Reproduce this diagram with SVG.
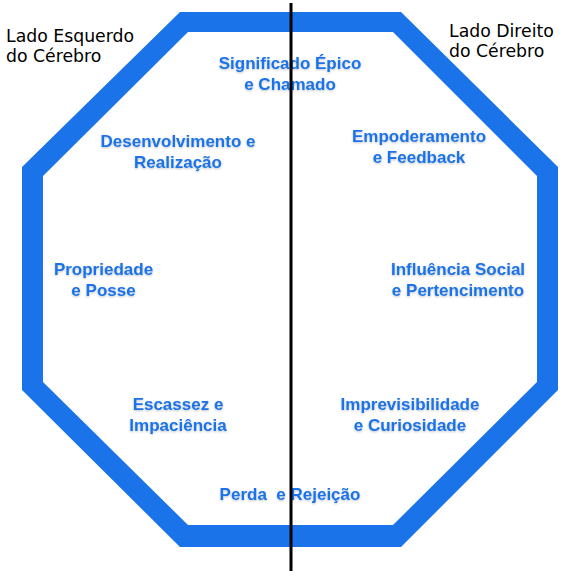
<svg xmlns="http://www.w3.org/2000/svg" width="581" height="577" viewBox="0 0 581 577">
<defs>
<style>
.lbl{font-family:"Liberation Sans",Arial,sans-serif;font-weight:bold;font-size:17px;fill:#1a73e8;text-anchor:middle;filter:url(#sh)}
.side{font-family:"DejaVu Sans",sans-serif;font-size:17.3px;fill:#000}
</style>
<filter id="sh" x="-10%" y="-30%" width="120%" height="160%">
<feDropShadow dx="0" dy="1" stdDeviation="1" flood-color="#000" flood-opacity="0.25"/>
</filter>
</defs>
<rect width="581" height="577" fill="#fff"/>
<g id="octagon">
<path fill="#1a73e8" fill-rule="evenodd" d="M180,12 L401,12 L558,167 L558,390 L401,547 L180,547 L22,390 L22,167 Z M188,32 L43,176 L43,382 L188,525 L393,525 L537,382 L537,176 L393,32 Z"/>
</g>
<g id="labels-side">
<text class="side" x="6" y="42">Lado Esquerdo</text>
<text class="side" x="6" y="62">do Cérebro</text>
<text class="side" x="449" y="37">Lado Direito</text>
<text class="side" x="449" y="57">do Cérebro</text>
</g>
<g id="n-epico"><text class="lbl" x="290" y="69">Significado Épico</text><text class="lbl" x="290" y="90">e Chamado</text></g>
<g id="n-desenvolvimento"><text class="lbl" x="178" y="147">Desenvolvimento e</text><text class="lbl" x="178" y="168">Realização</text></g>
<g id="n-empoderamento"><text class="lbl" x="419" y="142">Empoderamento</text><text class="lbl" x="419" y="163">e Feedback</text></g>
<g id="n-propriedade"><text class="lbl" x="103.5" y="275">Propriedade</text><text class="lbl" x="103.5" y="296">e Posse</text></g>
<g id="n-influencia"><text class="lbl" x="458" y="275">Influência Social</text><text class="lbl" x="458" y="296">e Pertencimento</text></g>
<g id="n-escassez"><text class="lbl" x="178" y="410">Escassez e</text><text class="lbl" x="178" y="431">Impaciência</text></g>
<g id="n-imprevisibilidade"><text class="lbl" x="410" y="410">Imprevisibilidade</text><text class="lbl" x="410" y="431">e Curiosidade</text></g>
<g id="n-perda"><text class="lbl" x="290" y="500" xml:space="preserve">Perda  e Rejeição</text></g>
<g id="connectors">
<line x1="291" y1="3" x2="291" y2="571" stroke="#000" stroke-width="3"/>
</g>
</svg>
